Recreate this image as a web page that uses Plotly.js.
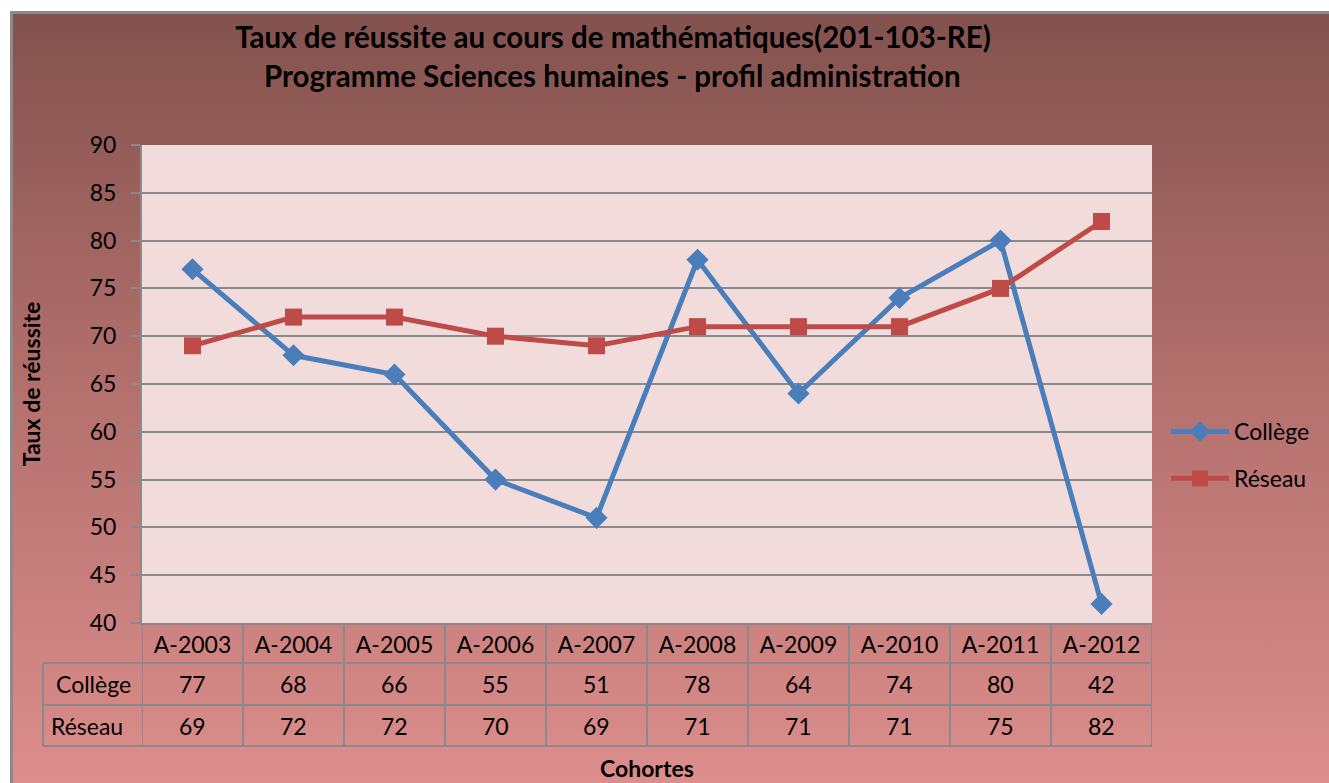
<!DOCTYPE html>
<html>
<head>
<meta charset="utf-8">
<script src="https://cdn.plot.ly/plotly-3.0.1.min.js"></script>
<style>
  html, body { margin: 0; padding: 0; background: #ffffff; width: 1329px; height: 783px; overflow: hidden; }
  #frame { position: absolute; left: 10px; top: 11px; width: 1319px; height: 772px;
    background: linear-gradient(to bottom, #83524e 0%, #b06e6b 45%, #dc8e8c 100%);
    border-left: 3px solid #8a8a8a; border-top: 3px solid #8a8a8a; box-sizing: border-box; }
  #chart { position: absolute; left: 0; top: 0; width: 1329px; height: 783px; }
</style>
</head>
<body>
<div id="frame"></div>
<div id="chart"></div>
<script>
const categories = ["A-2003","A-2004","A-2005","A-2006","A-2007","A-2008","A-2009","A-2010","A-2011","A-2012"];
const college = [77, 68, 66, 55, 51, 78, 64, 74, 80, 42];
const reseau  = [69, 72, 72, 70, 69, 71, 71, 71, 75, 82];
const seriesNames = ["Collège", "Réseau"];
const yTicks = [40, 45, 50, 55, 60, 65, 70, 75, 80, 85, 90];

const FONT = "Lato, 'Open Sans', sans-serif";
const FS = 23;
const W = 1329, H = 783;
const L = 142, R = 1152, T = 145, B = 623;
const plotH = B - T, plotW = R - L;
const py = p => (B - p) / plotH;          // pixel y -> paper y
const px = p => (p - L) / plotW;          // pixel x -> paper x

const traces = [
  { x: categories, y: college, name: seriesNames[0], type: "scatter", mode: "lines+markers",
    line: { color: "#4a7ebb", width: 5 }, marker: { symbol: "diamond", size: 17, color: "#4a7ebb" },
    legendgroup: "a" },
  { x: categories, y: reseau, name: seriesNames[1], type: "scatter", mode: "lines+markers",
    line: { color: "#be4b48", width: 5 }, marker: { symbol: "square", size: 17, color: "#be4b48" },
    legendgroup: "b" }
];

const gridColor = "#8a8a8a";
const shapes = [];
// horizontal table lines
[663, 705, 746].forEach(p => shapes.push({ type: "line", xref: "paper", yref: "paper",
  x0: px(43), x1: 1, y0: py(p), y1: py(p), line: { color: gridColor, width: 2 } }));
// left border of row labels
shapes.push({ type: "line", xref: "paper", yref: "paper", x0: px(43), x1: px(43),
  y0: py(663), y1: py(746), line: { color: gridColor, width: 2 } });
// vertical separators between categories
for (let i = 0; i <= categories.length; i++) {
  shapes.push({ type: "line", xref: "x", yref: "paper", x0: i - 0.5, x1: i - 0.5,
    y0: 0, y1: py(746), line: { color: gridColor, width: 2 } });
}

const annotations = [];
const rows = [college, reseau];
const rowY = [684, 725.5];
const labelX = [93, 87];
rows.forEach((vals, r) => {
  annotations.push({ xref: "paper", yref: "paper", x: px(labelX[r]), y: py(rowY[r]),
    text: seriesNames[r], showarrow: false, xanchor: "center", yanchor: "middle",
    font: { family: FONT, size: FS, color: "#000" } });
  vals.forEach((v, i) => annotations.push({ xref: "x", yref: "paper", x: categories[i], y: py(rowY[r]),
    text: String(v), showarrow: false, xanchor: "center", yanchor: "middle",
    font: { family: FONT, size: FS, color: "#000" } }));
});
// x axis title below table
annotations.push({ xref: "paper", yref: "paper", x: 0.5, y: py(768), text: "<b>Cohortes</b>",
  showarrow: false, xanchor: "center", yanchor: "middle", font: { family: FONT, size: 23, color: "#000" } });
// second title line
annotations.push({ xref: "paper", yref: "paper", x: px(612), y: py(76),
  text: "<b>Programme Sciences humaines - profil administration</b>",
  showarrow: false, xanchor: "center", yanchor: "middle", font: { family: FONT, size: 29.5, color: "#000" } });

const layout = {
  width: W, height: H,
  paper_bgcolor: "rgba(0,0,0,0)", plot_bgcolor: "#f2dcdb",
  margin: { l: L, r: W - R, t: T, b: H - B, pad: 0 },
  title: { text: "<b>Taux de réussite au cours de mathématiques(201-103-RE)</b>",
    x: 613 / W, xanchor: "center", y: 1 - 38 / H, yanchor: "middle", xref: "container", yref: "container",
    font: { family: FONT, size: 29.5, color: "#000" } },
  showlegend: true,
  legend: { x: px(1166), y: py(410), xanchor: "left", yanchor: "top", bgcolor: "rgba(0,0,0,0)",
    font: { family: FONT, size: 23, color: "#000" }, tracegroupgap: 14, traceorder: "grouped", itemwidth: 58 },
  xaxis: { type: "category", range: [-0.5, 9.5], showgrid: false, zeroline: false,
    showline: true, linecolor: gridColor, linewidth: 2, ticks: "", ticklabelstandoff: 0,
    tickfont: { family: FONT, size: FS, color: "#000" }, fixedrange: true },
  yaxis: { range: [40, 90], tickvals: yTicks, ticktext: yTicks.map(String), showgrid: true,
    gridcolor: gridColor, gridwidth: 2, zeroline: false, showline: true, linecolor: gridColor, linewidth: 2,
    ticks: "outside", ticklen: 9, tickcolor: gridColor, tickwidth: 2, ticklabelstandoff: 10,
    tickfont: { family: FONT, size: FS, color: "#000" },
    title: { text: "<b>Taux de réussite</b>", standoff: 43, font: { family: FONT, size: 23, color: "#000" } },
    automargin: false, fixedrange: true },
  shapes: shapes, annotations: annotations
};

Plotly.newPlot("chart", traces, layout, { displayModeBar: false, staticPlot: true });
</script>
</body>
</html>
